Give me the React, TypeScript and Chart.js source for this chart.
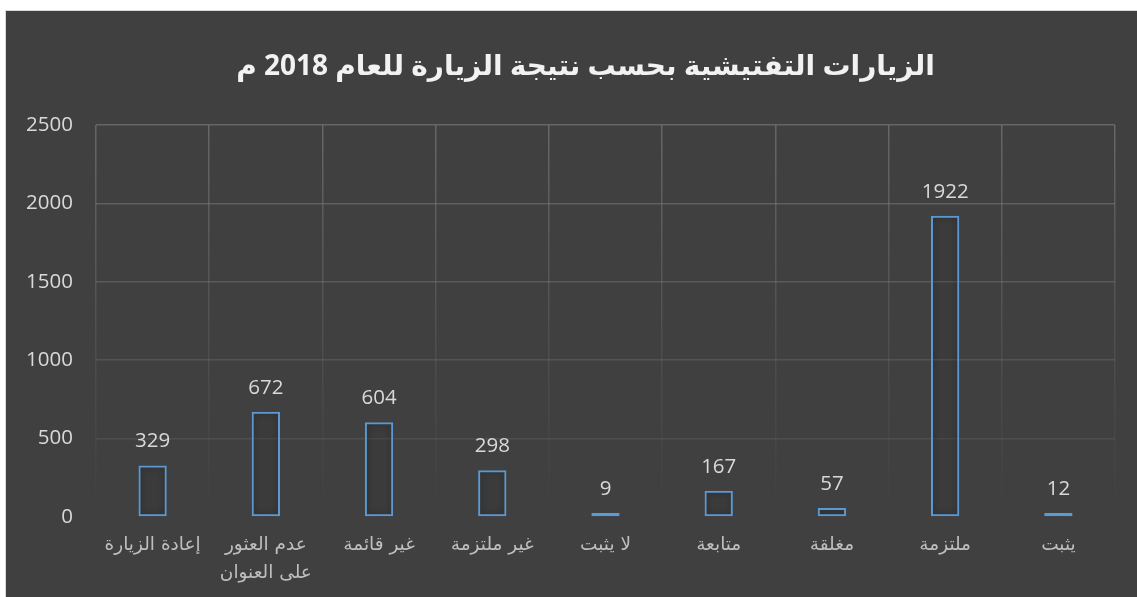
import React, { useEffect, useRef } from "react";
import { Chart, registerables } from "chart.js";

Chart.register(...registerables);

const TITLE = "الزيارات التفتيشية بحسب نتيجة الزيارة للعام 2018 م";
const categories: (string | string[])[] = [
  "إعادة الزيارة",
  ["عدم العثور", "على العنوان"],
  "غير قائمة",
  "غير ملتزمة",
  "لا يثبت",
  "متابعة",
  "مغلقة",
  "ملتزمة",
  "يثبت",
];
const visitCounts = [329, 672, 604, 298, 9, 167, 57, 1922, 12];
const yTicks = [0, 500, 1000, 1500, 2000, 2500];

const barShadow = {
  id: "barShadow",
  beforeDatasetsDraw(chart: any) {
    const c = chart.ctx;
    c.save();
    c.shadowColor = "rgba(0,0,0,0.5)";
    c.shadowBlur = 7;
  },
  afterDatasetsDraw(chart: any) {
    chart.ctx.restore();
  },
};

const valueLabels = {
  id: "valueLabels",
  afterDatasetsDraw(chart: any) {
    const c = chart.ctx;
    const meta = chart.getDatasetMeta(0);
    const data = chart.data.datasets[0].data;
    c.save();
    c.fillStyle = "#d9d9d9";
    c.font = "20.5px 'Open Sans', 'DejaVu Sans', sans-serif";
    c.textAlign = "center";
    c.textBaseline = "alphabetic";
    meta.data.forEach((bar: any, i: number) => {
      c.fillText(String(data[i]), bar.x, bar.y - 18);
    });
    c.restore();
  },
};

const chartTitle = {
  id: "chartTitle",
  afterDraw(chart: any) {
    const c = chart.ctx;
    c.save();
    c.fillStyle = "#f2f2f2";
    c.font = "bold 28px 'Open Sans', 'DejaVu Sans', sans-serif";
    c.textAlign = "center";
    c.textBaseline = "middle";
    c.fillText(TITLE, chart.width / 2 + 17, 67);
    c.restore();
  },
};

export default function App() {
  const ref = useRef<HTMLCanvasElement | null>(null);
  useEffect(() => {
    if (!ref.current) return;
    const vGrad = (ctx: any) => {
      const chart = ctx.chart;
      const a = chart.chartArea;
      if (!a) return "rgba(128,128,128,0.4)";
      const g = chart.ctx.createLinearGradient(0, a.top, 0, a.bottom);
      g.addColorStop(0, "rgba(128,128,128,0.6)");
      g.addColorStop(0.6, "rgba(128,128,128,0.2)");
      g.addColorStop(1, "rgba(128,128,128,0.0)");
      return g;
    };
    const chart = new Chart(ref.current, {
      type: "bar",
      data: {
        labels: categories,
        datasets: [
          {
            data: visitCounts,
            borderColor: "#5b9bd5",
            backgroundColor: "rgba(0,0,0,0.05)",
            borderWidth: 2,
            borderSkipped: false,
            minBarLength: 4,
            barPercentage: 0.25,
            categoryPercentage: 1,
          },
        ],
      },
      plugins: [barShadow, valueLabels, chartTitle],
      options: {
        responsive: false,
        animation: false,
        layout: { padding: { left: 0, right: 22, top: 125, bottom: 0 } },
        plugins: {
          legend: { display: false },
          tooltip: { enabled: false },
          title: { display: false },
        },
        scales: {
          x: {
            grid: { color: vGrad, lineWidth: 1.5, drawTicks: false, offset: true },
            border: { display: false },
            ticks: {
              color: "#bfbfbf",
              padding: 14,
              autoSkip: false,
              maxRotation: 0,
              font: { family: "'DejaVu Sans', sans-serif", size: 18.5, lineHeight: 1.52 },
            },
            afterFit: (s: any) => {
              s.height = 80;
            },
          },
          y: {
            min: 0,
            max: 2500,
            afterBuildTicks: (s: any) => {
              s.ticks = yTicks.map((v) => ({ value: v }));
            },
            grid: {
              drawTicks: false,
              lineWidth: 1.5,
              color: (ctx: any) => {
                const v = ctx.tick ? ctx.tick.value : 0;
                if (v === 0) return "rgba(0,0,0,0)";
                return `rgba(128,128,128,${0.12 + 0.48 * (v / 2500)})`;
              },
            },
            border: { display: false },
            ticks: {
              color: "#d9d9d9",
              padding: 23,
              callback: (v: any) => String(v),
              font: { family: "'Open Sans', 'DejaVu Sans', sans-serif", size: 20.5 },
            },
            afterFit: (s: any) => {
              s.width = 96;
            },
          },
        },
      },
    });
    return () => chart.destroy();
  }, []);
  return (
    <div style={{ position: "fixed", left: 0, top: 0, width: 1137, height: 597, background: "#ffffff", overflow: "hidden" }}>
      <div
        style={{
          position: "absolute",
          left: 5,
          top: 10,
          width: 1140,
          height: 600,
          background: "#404040",
          border: "1px solid #d9d9d9",
        }}
      />
      <canvas ref={ref} width={1137} height={597} style={{ position: "absolute", left: 0, top: 0, width: 1137, height: 597 }} />
    </div>
  );
}
